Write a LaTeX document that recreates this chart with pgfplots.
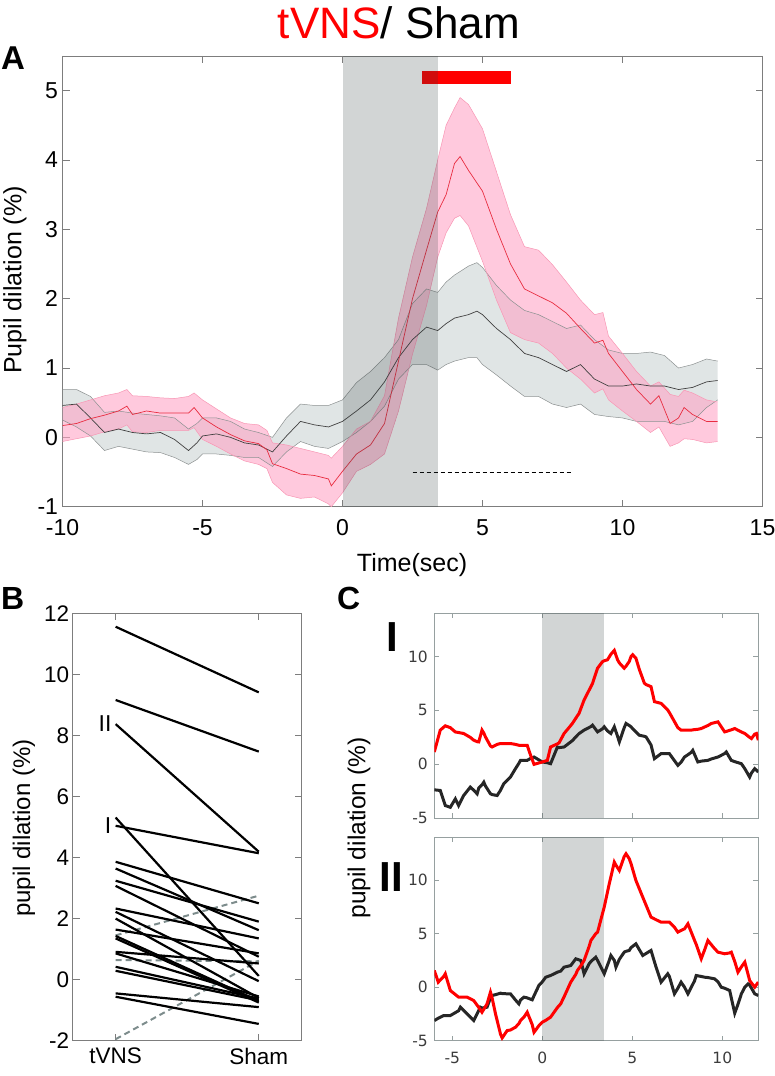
\documentclass[border=0pt]{standalone}
\usepackage{fontspec}
\setmainfont{Liberation Sans}
\newfontfamily\cfont{DejaVu Sans}
\usepackage{pgfplots}
\usepackage{pgfplotstable}
\pgfplotsset{compat=1.18}
\usepgfplotslibrary{fillbetween}
\definecolor{stimc}{RGB}{50,62,62}
\definecolor{tred}{RGB}{232,45,65}
\definecolor{pinkf}{RGB}{255,165,198}
\definecolor{pinke}{RGB}{248,150,180}
\definecolor{grayf}{RGB}{165,178,178}
\definecolor{graye}{RGB}{140,145,145}
\definecolor{framec}{RGB}{125,125,125}
\definecolor{framecc}{RGB}{150,160,160}
\definecolor{dgray}{RGB}{125,140,140}
\definecolor{ctick}{RGB}{60,60,60}

\pgfplotstableread{
x lo mean hi
-10 -0.06 0.17 0.43
-9.5 -0.02 0.20 0.48
-9 0.02 0.27 0.54
-8.5 0.08 0.32 0.60
-8 0.12 0.38 0.64
-7.7 0.18 0.45 0.69
-7.5 0.08 0.33 0.60
-7 0.07 0.38 0.59
-6.5 0.10 0.35 0.57
-6 0.10 0.35 0.56
-5.5 0.10 0.35 0.59
-5.3 0.14 0.43 0.64
-5 -0.03 0.28 0.54
-4.5 -0.13 0.15 0.41
-4 -0.24 0.04 0.28
-3.5 -0.34 -0.05 0.20
-3 -0.39 -0.09 0.18
-2.7 -0.45 -0.18 0.10
-2.5 -0.65 -0.38 -0.08
-2 -0.83 -0.45 -0.11
-1.5 -0.88 -0.53 -0.16
-1 -0.86 -0.55 -0.21
-0.5 -0.96 -0.60 -0.26
-0.4 -1.00 -0.70 -0.30
0 -0.80 -0.49 -0.13
0.5 -0.49 -0.24 0.12
1 -0.39 -0.11 0.23
1.5 -0.24 0.20 0.60
2 0.38 1.10 1.72
2.5 1.20 2.00 2.60
3 1.90 2.70 3.30
3.4 2.60 3.25 4.00
3.7 2.95 3.50 4.50
4 3.16 3.95 4.75
4.2 3.20 4.05 4.90
4.5 3.05 3.85 4.80
5 2.54 3.55 4.45
5.5 1.98 3.00 3.83
6 1.51 2.50 3.21
6.5 1.41 2.14 2.75
7 1.36 2.04 2.70
7.5 1.21 1.94 2.49
8 1.00 1.79 2.24
8.5 0.84 1.57 1.98
9 0.64 1.36 1.77
9.3 0.70 1.40 1.80
9.5 0.54 1.21 1.46
10 0.38 0.95 1.21
10.5 0.23 0.69 0.95
11 0.07 0.48 0.74
11.3 0.15 0.60 0.80
11.7 -0.13 0.20 0.62
12 -0.08 0.28 0.59
12.2 -0.02 0.43 0.68
12.5 -0.03 0.33 0.64
13 -0.08 0.23 0.54
13.4 -0.06 0.23 0.51
}\tvns

\pgfplotstableread{
x lo mean hi
-10 0.25 0.46 0.69
-9.5 0.15 0.48 0.69
-9 0.02 0.28 0.59
-8.5 -0.19 0.07 0.36
-8 -0.13 0.12 0.38
-7.5 -0.17 0.07 0.35
-7 -0.21 0.05 0.33
-6.5 -0.22 0.07 0.31
-6 -0.29 -0.03 0.28
-5.5 -0.39 -0.19 0.12
-5.2 -0.32 -0.08 0.20
-5 -0.24 0.02 0.28
-4.5 -0.24 0.05 0.28
-4 -0.26 0.00 0.23
-3.5 -0.29 -0.08 0.12
-3 -0.29 -0.11 0.07
-2.5 -0.42 -0.21 0.00
-2 -0.21 0.02 0.28
-1.5 -0.06 0.23 0.48
-1 -0.13 0.18 0.46
-0.5 -0.16 0.15 0.46
0 -0.06 0.23 0.54
0.5 0.07 0.38 0.79
1 0.23 0.54 0.95
1.5 0.45 0.80 1.15
2 0.84 1.15 1.41
2.5 1.05 1.41 1.93
3 1.05 1.59 2.14
3.4 0.97 1.54 2.09
3.7 1.05 1.64 2.24
4 1.10 1.72 2.34
4.5 1.15 1.77 2.47
4.8 1.15 1.82 2.52
5 1.05 1.77 2.45
5.5 0.90 1.57 2.19
6 0.74 1.41 1.98
6.5 0.59 1.21 1.83
7 0.59 1.15 1.77
7.5 0.48 1.05 1.67
8 0.43 0.95 1.57
8.5 0.48 1.05 1.62
9 0.33 0.84 1.41
9.5 0.30 0.74 1.26
10 0.28 0.74 1.21
10.5 0.23 0.77 1.21
11 0.23 0.74 1.23
11.5 0.23 0.74 1.18
12 0.18 0.69 1.00
12.5 0.23 0.72 1.05
13 0.43 0.80 1.13
13.4 0.54 0.82 1.10
}\sham

\pgfplotstableread{
x red black
-6 1.15 -2.36
-5.67 3.17 -2.42
-5.39 3.57 -3.82
-5.11 3.40 -3.98
-4.83 3.00 -3.20
-4.65 2.95 -3.82
-4.37 2.86 -2.89
-4.0 2.50 -2.11
-3.81 2.24 -2.40
-3.62 2.10 -2.73
-3.53 2.08 -2.20
-3.35 3.17 -1.90
-3.25 2.90 -1.65
-3.16 2.55 -2.00
-2.88 1.70 -2.73
-2.79 1.61 -2.80
-2.51 1.85 -2.89
-2.32 1.93 -2.40
-2.14 1.93 -1.80
-1.77 1.93 -1.18
-1.49 1.85 -0.40
-1.3 1.77 0.10
-1.21 1.77 0.37
-0.84 1.77 0.37
-0.65 0.84 0.55
-0.46 0.00 0.68
0 0.22 0.22
0.28 0.37 0.15
0.46 1.61 0.06
0.84 1.90 1.61
0.93 1.99 1.55
1.21 2.86 1.61
1.58 3.60 2.08
1.67 3.79 2.20
1.95 4.50 2.70
2.04 4.72 2.85
2.32 5.96 3.17
2.7 7.20 3.50
2.79 7.50 3.63
3.07 8.91 3.01
3.35 9.53 3.30
3.44 9.60 3.48
3.62 9.69 3.10
3.81 10.20 2.86
4.0 10.56 3.48
4.18 9.69 2.60
4.28 9.40 2.08
4.55 8.91 3.40
4.65 9.10 3.79
4.83 9.53 3.60
4.93 10.00 3.48
5.02 10.16 3.30
5.2 9.84 3.00
5.39 8.80 2.70
5.67 7.52 2.60
5.76 7.40 2.55
6.04 7.20 1.80
6.23 5.81 0.53
6.6 5.65 0.99
6.97 5.03 0.99
7.06 4.80 0.99
7.53 3.40 -0.09
7.71 3.17 0.20
7.9 3.17 0.68
8.27 3.17 1.10
8.36 3.20 1.30
8.64 3.25 0.22
8.83 3.32 0.30
9.2 3.60 0.37
9.39 3.79 0.50
9.76 3.94 0.68
10.13 3.01 1.00
10.22 3.05 1.15
10.5 3.20 0.37
10.69 3.32 0.25
11.06 3.00 0.06
11.25 2.86 -0.40
11.52 2.50 -1.18
11.62 2.39 -0.80
11.8 2.80 -0.40
11.9 2.86 -0.55
12.0 2.24 -0.71
}\caseone

\pgfplotstableread{
x red black
-6 1.56 -3.12
-5.78 0.47 -2.90
-5.48 1.00 -2.65
-5.39 1.25 -2.65
-5.11 -0.31 -2.65
-4.65 -0.93 -2.20
-4.55 -0.93 -1.87
-4.18 -0.93 -2.49
-3.81 -1.25 -3.12
-3.44 -2.10 -1.87
-3.35 -2.34 -1.95
-3.07 -1.56 -1.87
-2.88 -0.47 -1.00
-2.79 -1.00 -0.78
-2.6 -2.49 -0.70
-2.32 -4.40 -0.56
-2.23 -4.74 -0.60
-1.95 -4.05 -0.62
-1.77 -4.00 -0.62
-1.49 -3.74 -1.20
-1.3 -3.40 -1.56
-1.21 -3.12 -1.20
-1.02 -2.80 -0.93
-0.84 -2.34 -1.00
-0.56 -3.50 -1.18
-0.46 -4.21 -0.80
-0.19 -3.60 0.16
0 -3.27 0.50
0.19 -3.10 0.93
0.46 -2.80 1.09
0.84 -1.90 1.40
1.02 -1.56 1.50
1.21 -0.90 1.87
1.58 0.47 2.02
1.86 1.20 2.65
1.95 1.56 2.60
2.14 2.00 2.49
2.32 2.49 1.25
2.6 3.80 2.18
2.7 4.36 2.40
2.97 5.00 2.80
3.07 5.14 2.50
3.44 7.48 1.25
3.72 9.66 2.50
3.81 10.30 2.96
4.0 11.68 2.50
4.09 11.40 1.87
4.28 10.90 2.60
4.55 12.20 3.27
4.65 12.46 3.35
4.83 12.00 3.43
4.93 11.53 3.70
5.2 9.97 4.05
5.58 8.41 2.96
6.04 6.54 3.43
6.32 6.30 1.87
6.6 6.07 0.47
6.97 6.07 1.25
7.06 6.07 1.00
7.34 5.60 -0.62
7.53 5.14 -0.10
7.71 5.30 0.47
7.9 5.45 0.00
8.09 5.92 -0.62
8.46 4.36 0.60
8.55 4.00 1.09
8.83 2.65 1.00
9.02 3.50 0.93
9.2 4.36 0.90
9.57 3.60 0.78
9.76 3.27 0.50
9.94 3.20 0.00
10.13 3.12 -0.10
10.41 3.20 -0.31
10.5 3.27 -1.00
10.69 2.40 -2.43
10.87 1.40 -1.60
11.06 1.90 -0.62
11.25 2.34 0.00
11.43 1.20 0.31
11.52 0.62 0.20
11.8 0.00 -0.62
12.0 0.47 -0.78
}\casetwo

\tikzset{bline/.style={black, line width=2.2pt}}

\begin{document}
\begin{tikzpicture}[x=1pt,y=1pt]

% ---------- Panel A ----------
\begin{axis}[
  at={(62.5pt,569.3pt)}, anchor=south west, scale only axis,
  width=700pt, height=450.7pt,
  xmin=-10, xmax=15, ymin=-1, ymax=5.5,
  xtick={-10,-5,0,5,10,15}, ytick={-1,0,1,2,3,4,5},
  tick align=inside, major tick length=7pt,
  axis line style={framec, line width=0.9pt},
  tick style={framec, line width=0.9pt},
  /pgf/number format/assume math mode=true,
  ticklabel style={font=\fontsize{23}{27}\selectfont},
  xticklabel style={yshift=-9pt},
  yticklabel style={xshift=-1pt},
]
\addplot[fill=red, draw=none] coordinates {(2.85,5.1) (6.0,5.1) (6.0,5.29) (2.85,5.29)} --cycle;
\addplot[draw=graye, line width=0.5pt, name path=shi] table[x=x,y=hi]{\sham};
\addplot[draw=graye, line width=0.5pt, name path=slo] table[x=x,y=lo]{\sham};
\addplot[grayf, fill opacity=0.34, draw=none] fill between[of=shi and slo];
\addplot[draw=pinke, line width=0.5pt, name path=rhi] table[x=x,y=hi]{\tvns};
\addplot[draw=pinke, line width=0.5pt, name path=rlo] table[x=x,y=lo]{\tvns};
\addplot[pinkf, fill opacity=0.6, draw=none] fill between[of=rhi and rlo];
\addplot[black!75, line width=0.7pt] table[x=x,y=mean]{\sham};
\addplot[tred, line width=0.7pt] table[x=x,y=mean]{\tvns};
\addplot[black, line width=0.8pt, dash pattern=on 4pt off 3pt] coordinates {(2.5,-0.5) (8.2,-0.5)};
\addplot[fill=stimc, fill opacity=0.22, draw=none] coordinates {(0,-1) (3.4,-1) (3.4,5.5) (0,5.5)} --cycle;
\end{axis}

% ---------- Panel B ----------
\begin{axis}[
  at={(72.7pt,35.3pt)}, anchor=south west, scale only axis,
  width=229pt, height=427.4pt,
  xmin=0.7, xmax=2.3, ymin=-2, ymax=12,
  xtick={1,2}, xticklabels={tVNS,Sham},
  ytick={-2,0,2,4,6,8,10,12},
  tick align=inside, major tick length=7pt,
  axis line style={framec, line width=0.9pt},
  tick style={framec, line width=0.9pt},
  /pgf/number format/assume math mode=true,
  ticklabel style={font=\fontsize{22.5}{27}\selectfont},
  xticklabel style={yshift=-4pt},
]
\addplot[dgray, dash pattern=on 6pt off 4pt, line width=2pt] coordinates {(1,-1.95) (2,0.62)};
\addplot[dgray, dash pattern=on 6pt off 4pt, line width=2pt] coordinates {(1,1.45) (2,2.75)};
\addplot[dgray, dash pattern=on 6pt off 4pt, line width=2pt] coordinates {(1,0.64) (2,0.60)};
\addplot[bline] coordinates {(1,11.56) (2,9.41)};
\addplot[bline] coordinates {(1,9.16) (2,7.47)};
\addplot[bline] coordinates {(1,8.37) (2,4.19)};
\addplot[bline] coordinates {(1,5.04) (2,4.14)};
\addplot[bline] coordinates {(1,5.31) (2,0.12)};
\addplot[bline] coordinates {(1,3.86) (2,2.50)};
\addplot[bline] coordinates {(1,3.64) (2,1.62)};
\addplot[bline] coordinates {(1,3.24) (2,1.90)};
\addplot[bline] coordinates {(1,3.07) (2,0.75)};
\addplot[bline] coordinates {(1,2.33) (2,1.35)};
\addplot[bline] coordinates {(1,2.22) (2,-0.05)};
\addplot[bline] coordinates {(1,2.00) (2,-0.60)};
\addplot[bline] coordinates {(1,1.64) (2,0.86)};
\addplot[bline] coordinates {(1,1.43) (2,-0.70)};
\addplot[bline] coordinates {(1,1.35) (2,-0.75)};
\addplot[bline] coordinates {(1,0.91) (2,0.53)};
\addplot[bline] coordinates {(1,0.86) (2,-0.55)};
\addplot[bline] coordinates {(1,0.42) (2,-0.62)};
\addplot[bline] coordinates {(1,0.29) (2,-0.68)};
\addplot[bline] coordinates {(1,-0.45) (2,-0.90)};
\addplot[bline] coordinates {(1,-0.56) (2,-1.45)};
\node[font=\fontsize{23}{27}\selectfont, anchor=east] at (axis cs:0.995,8.4) {II};
\node[font=\fontsize{23}{27}\selectfont, anchor=east] at (axis cs:0.995,5.05) {I};
\end{axis}

% ---------- Panel C (I) ----------
\begin{axis}[
  at={(434.3pt,257.7pt)}, anchor=south west, scale only axis,
  width=324pt, height=205pt,
  xmin=-6, xmax=12, ymin=-5, ymax=14,
  xtick={-5,0,5,10}, xticklabels={},
  ytick={-5,0,5,10},
  tick align=inside, major tick length=5pt,
  axis line style={framecc, line width=0.9pt},
  tick style={framecc, line width=0.9pt},
  /pgf/number format/assume math mode=true,
  ticklabel style={font=\cfont\fontsize{15.5}{18}\selectfont, text=ctick},
  yticklabel style={xshift=-3pt},
]
\addplot[fill=stimc, fill opacity=0.22, draw=none] coordinates {(0,-5) (3.4,-5) (3.4,14) (0,14)} --cycle;
\addplot[black!85, line width=3pt] table[x=x,y=black]{\caseone};
\addplot[red, line width=3pt] table[x=x,y=red]{\caseone};
\end{axis}

% ---------- Panel C (II) ----------
\begin{axis}[
  at={(434.3pt,35.3pt)}, anchor=south west, scale only axis,
  width=324pt, height=203.4pt,
  xmin=-6, xmax=12, ymin=-5, ymax=14,
  xtick={-5,0,5,10},
  ytick={-5,0,5,10},
  tick align=inside, major tick length=5pt,
  axis line style={framecc, line width=0.9pt},
  tick style={framecc, line width=0.9pt},
  /pgf/number format/assume math mode=true,
  ticklabel style={font=\cfont\fontsize{15.5}{18}\selectfont, text=ctick},
  yticklabel style={xshift=-3pt},
  xticklabel style={yshift=-8pt},
]
\addplot[fill=stimc, fill opacity=0.22, draw=none] coordinates {(0,-5) (3.4,-5) (3.4,14) (0,14)} --cycle;
\addplot[black!85, line width=3pt] table[x=x,y=black]{\casetwo};
\addplot[red, line width=3pt] table[x=x,y=red]{\casetwo};
\end{axis}

% ---------- Texts ----------
\node[font=\fontsize{44}{48}\selectfont] at (399,1053) {\textcolor{red}{tVNS}/ Sham};
\node[font=\bfseries\fontsize{33}{36}\selectfont, anchor=north west, inner sep=0pt] at (1,1029) {A};
\node[font=\bfseries\fontsize{32}{36}\selectfont, anchor=north west, inner sep=0pt] at (1,489) {B};
\node[font=\bfseries\fontsize{32}{36}\selectfont, anchor=north west, inner sep=0pt] at (337,489) {C};
\node[font=\fontsize{25}{29}\selectfont, rotate=90] at (15,796) {Pupil dilation (\%)};
\node[font=\fontsize{25}{30}\selectfont] at (412,511) {Time(sec)};
\node[font=\fontsize{24}{28}\selectfont, rotate=90] at (24,248) {pupil dilation (\%)};
\node[font=\fontsize{24.5}{28}\selectfont, rotate=90] at (359,248) {pupil dilation (\%)};
\node[font=\bfseries\fontsize{42}{46}\selectfont] at (392,439) {I};
\node[font=\bfseries\fontsize{42}{46}\selectfont] at (391,199) {II};
\pgfresetboundingbox
\useasboundingbox (0,0) rectangle (774,1076);
\end{tikzpicture}
\end{document}
